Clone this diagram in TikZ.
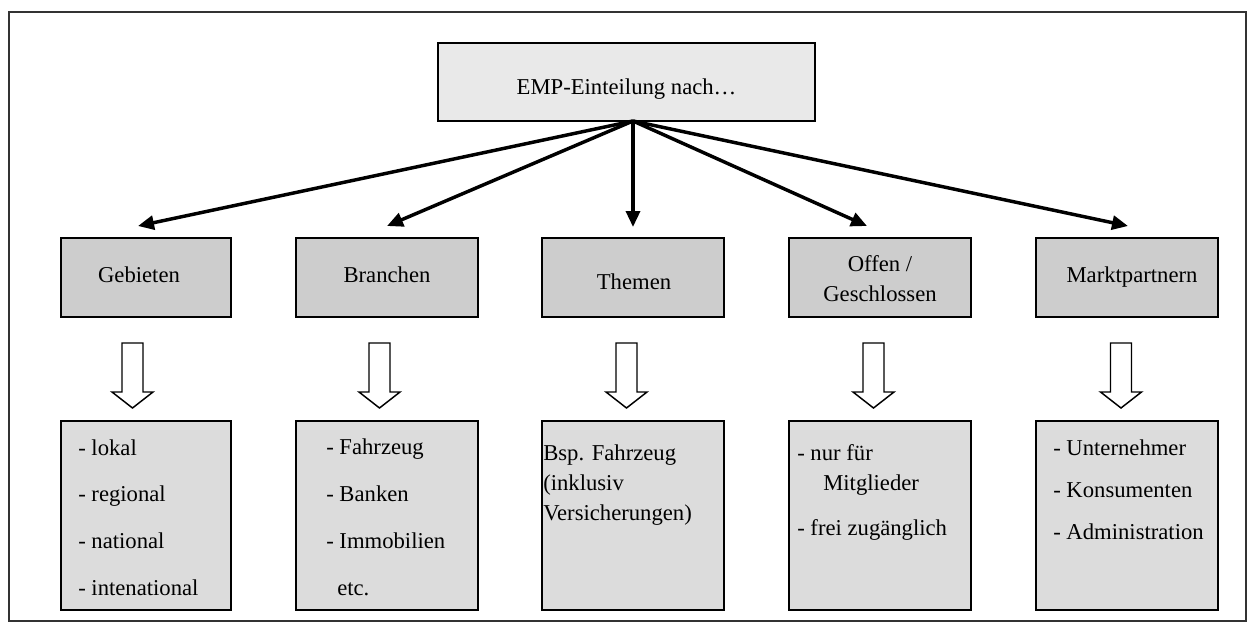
\documentclass[tikz,border=0pt]{standalone}
\usepackage{fontspec}
\setmainfont{Liberation Serif}
\usetikzlibrary{arrows.meta}
\definecolor{topfill}{HTML}{E9E9E9}
\definecolor{catfill}{HTML}{CDCDCD}
\definecolor{listfill}{HTML}{DCDCDC}
\definecolor{framegray}{HTML}{333333}
\begin{document}
\begin{tikzpicture}[x=0.75pt,y=-0.75pt,
  font=\fontsize{17}{20}\selectfont,
  topbox/.style={draw=black,line width=1.4pt,fill=topfill,inner sep=0pt,
    minimum width=377*0.75pt,minimum height=78*0.75pt},
  catbox/.style={draw=black,line width=1.4pt,fill=catfill,inner sep=0pt,
    minimum width=182*0.75pt,minimum height=79*0.75pt},
  listbox/.style={draw=black,line width=1.4pt,fill=listfill,inner sep=0pt,
    minimum width=182*0.75pt,minimum height=189*0.75pt},
  txt/.style={inner sep=0pt,anchor=base},
  ltxt/.style={inner sep=0pt,anchor=base west},
  branch/.style={line width=2.6pt,-{Triangle[length=12pt,width=10.5pt]}},
  blockarrow/.style={draw=black,line width=1.1pt,fill=white,line join=miter}
]
\useasboundingbox (0,0) rectangle (1256,632);
% outer frame
\draw[framegray,line width=1.4pt] (9,12) rectangle (1246,621);

% top box
\node[topbox] (top) at (626.5,82) {};
\node[txt] (toptxt) at (626.5,94) {EMP-Einteilung nach…};

% category boxes
\node[catbox,minimum width=170*0.75pt] (geb) at (146,277.5) {};
\node[catbox] (bra) at (387,277.5) {};
\node[catbox] (the) at (633,277.5) {};
\node[catbox] (off) at (880,277.5) {};
\node[catbox] (mar) at (1127,277.5) {};

\node[txt] (gebtxt) at (139,282) {Gebieten};
\node[txt] (bratxt) at (387,282) {Branchen};
\node[txt] (thetxt) at (634,289) {Themen};
\node[txt] (offtxt) at (880,271) {Offen /};
\node[txt] (offtxtb) at (880,301) {Geschlossen};
\node[txt] (martxt) at (1132,282) {Marktpartnern};

% branch arrows from the top box
\coordinate (src) at (633,121);
\coordinate (tgeb) at (138,226);
\coordinate (tbra) at (387,226);
\coordinate (tthe) at (633,227);
\coordinate (toff) at (867,226);
\coordinate (tmar) at (1128,226);
\foreach \t in {tgeb,tbra,tthe,toff,tmar}
  \draw[branch] (src) -- (\t);

% hollow block arrows
\foreach \c in {132.5,379.5,626.5,873.5,1121}
  \draw[blockarrow] (\c-10.5,343) -- (\c+10.5,343) -- (\c+10.5,392)
    -- (\c+20.5,392) -- (\c,408) -- (\c-20.5,392) -- (\c-10.5,392) -- cycle;

% list boxes
\node[listbox,minimum width=170*0.75pt] (gebl) at (146,515.5) {};
\node[listbox] (bral) at (387,515.5) {};
\node[listbox] (thel) at (633,515.5) {};
\node[listbox] (offl) at (880,515.5) {};
\node[listbox] (marl) at (1127,515.5) {};

% list texts
\node[ltxt] (g1) at (78,455) {- lokal};
\node[ltxt] (g2) at (78,501) {- regional};
\node[ltxt] (g3) at (78,548) {- national};
\node[ltxt] (g4) at (78,595) {- intenational};

\node[ltxt] (b1) at (326,454) {- Fahrzeug};
\node[ltxt] (b2) at (326,501) {- Banken};
\node[ltxt] (b3) at (326,548) {- Immobilien};
\node[ltxt] (b4) at (337,595) {etc.};

\node[ltxt] (t1) at (543,460) {Bsp. Fahrzeug};
\node[ltxt] (t2) at (543,490) {(inklusiv};
\node[ltxt] (t3) at (543,520) {Versicherungen)};

\node[ltxt] (o1) at (797,460) {- nur für};
\node[ltxt] (o2) at (823,490) {Mitglieder};
\node[ltxt] (o3) at (797,535) {- frei zugänglich};

\node[ltxt] (m1) at (1053,455) {- Unternehmer};
\node[ltxt] (m2) at (1053,497) {- Konsumenten};
\node[ltxt] (m3) at (1053,539) {- Administration};
\end{tikzpicture}
\end{document}
